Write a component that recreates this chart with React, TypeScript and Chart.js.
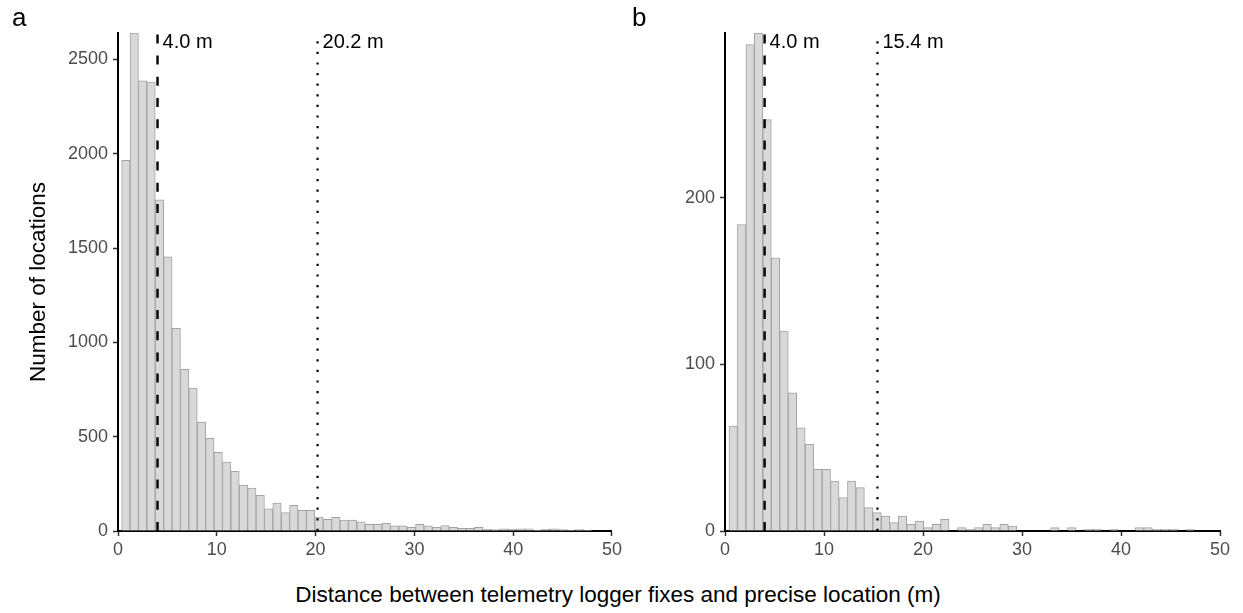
import React, { useEffect, useRef } from 'react';
import { Chart, registerables } from 'chart.js';

Chart.register(...registerables);

// ---------- data ----------
const binStartA = 0.37;
const binWidthA = 0.85;
const countsA = [
  1965, 2640, 2386, 2380, 1755, 1453, 1075, 857, 758, 578,
  491, 417, 366, 316, 244, 228, 189, 118, 148, 97,
  136, 110, 110, 74, 62, 73, 58, 58, 49, 35,
  35, 41, 27, 27, 19, 35, 27, 19, 29, 19,
  14, 14, 19, 9, 7, 12, 10, 12, 12, 5,
  9, 12, 7, 5, 7, 3,
];

const binStartB = 0.4;
const binWidthB = 0.855;
const countsB = [
  63, 184, 292, 299, 247, 164, 120, 83, 62, 52,
  37, 37, 30, 20, 30, 26, 14, 11, 9, 5,
  9, 4, 6, 2, 4, 7, 0, 2, 1, 2,
  4, 2, 4, 3, 0, 0, 0, 0, 2, 0,
  2, 0, 1, 1, 0, 1, 0, 0, 2, 2,
  1, 1, 1, 0, 1,
];

const yMaxA = 2640;
const yMaxB = 299;
const yTicksA = [0, 500, 1000, 1500, 2000, 2500];
const yTicksB = [0, 100, 200];
const xTicks = [0, 10, 20, 30, 40, 50];
const xMin = 0;
const xMax = 50;

const medianA = 4.0;
const p95A = 20.2;
const medianB = 4.0;
const p95B = 15.4;
const labelsA = ['4.0 m', '20.2 m'];
const labelsB = ['4.0 m', '15.4 m'];

const panelLetters = ['a', 'b'];
const yTitle = 'Number of locations';
const xTitle = 'Distance between telemetry logger fixes and precise location (m)';

// ---------- styling ----------
const FONT = '"Liberation Sans", Arial, Helvetica, sans-serif';
Chart.defaults.font.family = FONT;

const refLabelPlugin = {
  id: 'refLabels',
  afterDatasetsDraw(chart: any, _args: any, opts: any) {
    const { ctx, chartArea, scales } = chart;
    ctx.save();
    ctx.font = `20px ${FONT}`;
    ctx.fillStyle = '#000000';
    ctx.textBaseline = 'alphabetic';
    ctx.textAlign = 'left';
    (opts.items || []).forEach((it: any) => {
      ctx.fillText(it.text, scales.x.getPixelForValue(it.x) + 5, chartArea.top + 15);
    });
    ctx.restore();
  },
};

type PanelProps = {
  left: number;
  width: number;
  height: number;
  counts: number[];
  binStart: number;
  binWidth: number;
  yMax: number;
  yTicks: number[];
  median: number;
  p95: number;
  labels: string[];
  showYTitle: boolean;
  yAxisWidth: number;
  padRight: number;
};

function Panel(p: PanelProps) {
  const ref = useRef<HTMLCanvasElement | null>(null);
  useEffect(() => {
    if (!ref.current) return;
    const bars = p.counts.map((c, i) => ({ x: p.binStart + p.binWidth * (i + 0.5), y: c }));
    const chart = new Chart(ref.current, {
      type: 'bar',
      data: {
        datasets: [
          {
            type: 'line',
            data: [
              { x: p.median, y: 0 },
              { x: p.median, y: p.yMax },
            ],
            borderColor: '#000000',
            borderWidth: 2.4,
            borderDash: [9, 12.2],
            borderCapStyle: 'butt',
            pointRadius: 0,
            order: 0,
          } as any,
          {
            type: 'line',
            data: [
              { x: p.p95, y: 0 },
              { x: p.p95, y: p.yMax },
            ],
            borderColor: '#000000',
            borderWidth: 2.2,
            borderDash: [2.2, 8.4],
            borderCapStyle: 'butt',
            pointRadius: 0,
            order: 0,
          } as any,
          {
            type: 'bar',
            data: bars,
            backgroundColor: '#d9d9d9',
            borderColor: '#a3a3a3',
            borderWidth: 1,
            borderSkipped: 'start',
            barPercentage: 1,
            categoryPercentage: 1,
            order: 1,
          } as any,
        ],
      },
      options: {
        responsive: false,
        animation: false,
        devicePixelRatio: 1,
        layout: { padding: { top: 33, right: p.padRight, left: 0, bottom: 0 } },
        plugins: {
          legend: { display: false },
          tooltip: { enabled: false },
          refLabels: {
            items: [
              { x: p.median, text: p.labels[0] },
              { x: p.p95, text: p.labels[1] },
            ],
          },
        } as any,
        scales: {
          x: {
            type: 'linear',
            min: xMin,
            max: xMax,
            offset: false,
            grid: {
              offset: false,
              drawOnChartArea: false,
              drawTicks: true,
              tickLength: 5,
              tickColor: '#333333',
              tickWidth: 1.5,
            },
            border: { display: true, color: '#000000', width: 2 },
            ticks: {
              color: '#4d4d4d',
              font: { size: 18, family: FONT },
              padding: 3,
              maxRotation: 0,
              autoSkip: false,
              callback: (v: any) => String(v),
            },
            afterBuildTicks: (s: any) => {
              s.ticks = xTicks.map((v) => ({ value: v }));
            },
            afterFit: (s: any) => {
              s.height = 29;
            },
          },
          y: {
            type: 'linear',
            min: 0,
            max: p.yMax,
            grid: {
              drawOnChartArea: false,
              drawTicks: true,
              tickLength: 5,
              tickColor: '#333333',
              tickWidth: 1.5,
            },
            border: { display: true, color: '#000000', width: 2 },
            ticks: {
              color: '#4d4d4d',
              font: { size: 18, family: FONT },
              padding: 5,
              autoSkip: false,
              callback: (v: any) => String(v),
            },
            title: {
              display: p.showYTitle,
              text: yTitle,
              color: '#000000',
              font: { size: 22.5, family: FONT },
              padding: { top: 25, bottom: 0 },
            },
            afterBuildTicks: (s: any) => {
              s.ticks = p.yTicks.map((v) => ({ value: v }));
            },
            afterFit: (s: any) => {
              s.width = p.yAxisWidth;
            },
          },
        },
      } as any,
      plugins: [refLabelPlugin],
    });
    return () => chart.destroy();
  }, []);
  return (
    <canvas
      ref={ref}
      width={p.width}
      height={p.height}
      style={{ position: 'absolute', left: p.left, top: 0, width: p.width, height: p.height }}
    />
  );
}

export default function App() {
  return (
    <div
      style={{
        position: 'fixed',
        left: 0,
        top: 0,
        width: 1243,
        height: 613,
        background: '#ffffff',
        overflow: 'hidden',
        fontFamily: FONT,
      }}
    >
      <Panel
        left={0}
        width={625}
        height={560}
        counts={countsA}
        binStart={binStartA}
        binWidth={binWidthA}
        yMax={yMaxA}
        yTicks={yTicksA}
        median={medianA}
        p95={p95A}
        labels={labelsA}
        showYTitle={true}
        yAxisWidth={118}
        padRight={10}
      />
      <Panel
        left={625}
        width={618}
        height={560}
        counts={countsB}
        binStart={binStartB}
        binWidth={binWidthB}
        yMax={yMaxB}
        yTicks={yTicksB}
        median={medianB}
        p95={p95B}
        labels={labelsB}
        showYTitle={false}
        yAxisWidth={100}
        padRight={23}
      />
      <div style={{ position: 'absolute', left: 12, top: 4, fontSize: 26, lineHeight: '26px', color: '#000' }}>
        {panelLetters[0]}
      </div>
      <div style={{ position: 'absolute', left: 632, top: 4, fontSize: 26, lineHeight: '26px', color: '#000' }}>
        {panelLetters[1]}
      </div>
      <div
        style={{
          position: 'absolute',
          left: 0,
          top: 584,
          width: 1236,
          textAlign: 'center',
          fontSize: 22.5,
          lineHeight: '22.5px',
          color: '#000',
          whiteSpace: 'nowrap',
        }}
      >
        {xTitle}
      </div>
    </div>
  );
}
